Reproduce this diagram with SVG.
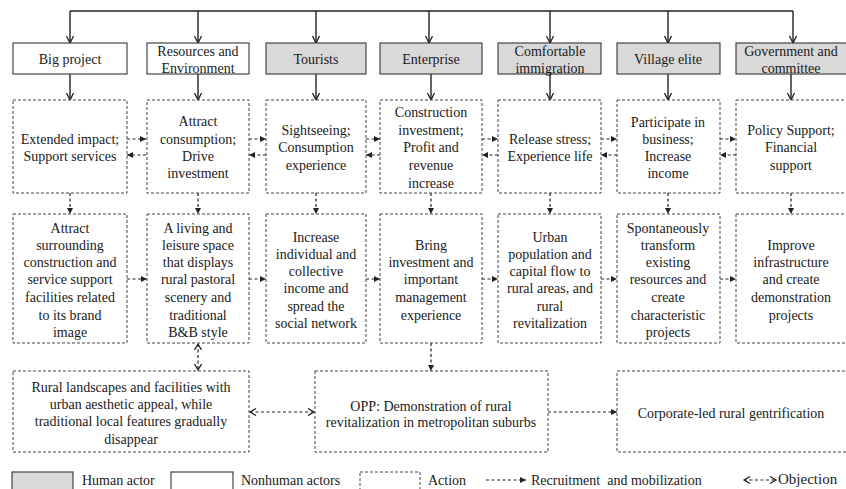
<svg xmlns="http://www.w3.org/2000/svg" width="846" height="489" viewBox="0 0 846 489" font-family="Liberation Serif, Times New Roman, Tinos, DejaVu Serif, serif">
<style>
text{font-family:"Liberation Serif","Times New Roman",Tinos,"DejaVu Serif",serif;font-size:14px;fill:#1a1a1a;text-anchor:middle}
.lg{text-anchor:start}
.actor{stroke:#333;stroke-width:1.1;fill:#fff}
.human{fill:#d9d9d9}
.act{stroke:#444;stroke-width:1;fill:#fff;stroke-dasharray:3 2}
.solid{stroke:#222;stroke-width:1.4;fill:none}
.dash{stroke:#222;stroke-width:1.2;fill:none;stroke-dasharray:3 2.5}
</style>
<defs>
<marker id="vs" markerUnits="userSpaceOnUse" markerWidth="10" markerHeight="10" refX="8" refY="4" orient="auto"><path d="M1,0.5 L8,4 L1,7.5" fill="none" stroke="#222" stroke-width="1.3"/></marker>
<marker id="tri" markerUnits="userSpaceOnUse" markerWidth="8" markerHeight="8" refX="6" refY="3" orient="auto"><path d="M0,0 L6,3 L0,6 Z" fill="#222"/></marker>
<marker id="ve" markerUnits="userSpaceOnUse" markerWidth="10" markerHeight="10" refX="7" refY="4" orient="auto-start-reverse"><path d="M1,0.5 L7,4 L1,7.5" fill="none" stroke="#222" stroke-width="1.3"/></marker>
</defs>

<g id="connectors">
<path class="solid" d="M70,11 H793"/>
<path class="solid" marker-end="url(#vs)" d="M70,11 V43"/>
<path class="solid" marker-end="url(#vs)" d="M198,11 V43"/>
<path class="solid" marker-end="url(#vs)" d="M316,11 V43"/>
<path class="solid" marker-end="url(#vs)" d="M429,11 V43"/>
<path class="solid" marker-end="url(#vs)" d="M550,11 V43"/>
<path class="solid" marker-end="url(#vs)" d="M668,11 V43"/>
<path class="solid" marker-end="url(#vs)" d="M793,11 V43"/>
<path class="solid" marker-end="url(#vs)" d="M70,74 V100"/>
<path class="solid" marker-end="url(#vs)" d="M198,74 V100"/>
<path class="solid" marker-end="url(#vs)" d="M316,74 V100"/>
<path class="solid" marker-end="url(#vs)" d="M431,74 V100"/>
<path class="solid" marker-end="url(#vs)" d="M550,74 V100"/>
<path class="solid" marker-end="url(#vs)" d="M668,74 V100"/>
<path class="solid" marker-end="url(#vs)" d="M791,74 V100"/>
<path class="dash" marker-end="url(#tri)" d="M127,139 H146"/>
<path class="dash" marker-end="url(#tri)" d="M146,155 H127"/>
<path class="dash" marker-end="url(#tri)" d="M249,139 H266"/>
<path class="dash" marker-end="url(#tri)" d="M266,155 H249"/>
<path class="dash" marker-end="url(#tri)" d="M366,139 H380"/>
<path class="dash" marker-end="url(#tri)" d="M380,155 H366"/>
<path class="dash" marker-end="url(#tri)" d="M482,139 H498"/>
<path class="dash" marker-end="url(#tri)" d="M498,155 H482"/>
<path class="dash" marker-end="url(#tri)" d="M601,139 H617"/>
<path class="dash" marker-end="url(#tri)" d="M617,155 H601"/>
<path class="dash" marker-end="url(#tri)" d="M720,139 H736"/>
<path class="dash" marker-end="url(#tri)" d="M736,155 H720"/>
<path class="dash" marker-end="url(#tri)" d="M70,193 V214"/>
<path class="dash" marker-end="url(#tri)" d="M198,193 V214"/>
<path class="dash" marker-end="url(#tri)" d="M316,193 V214"/>
<path class="dash" marker-end="url(#tri)" d="M431,193 V214"/>
<path class="dash" marker-end="url(#tri)" d="M550,193 V214"/>
<path class="dash" marker-end="url(#tri)" d="M668,193 V214"/>
<path class="dash" marker-end="url(#tri)" d="M791,193 V214"/>
<path class="dash" marker-end="url(#tri)" d="M127,279 H147"/>
<path class="dash" marker-end="url(#tri)" d="M249,279 H266"/>
<path class="dash" marker-end="url(#tri)" d="M366,279 H380"/>
<path class="dash" marker-end="url(#tri)" d="M482,279 H498"/>
<path class="dash" marker-end="url(#tri)" d="M601,279 H617"/>
<path class="dash" marker-end="url(#tri)" d="M720,279 H736"/>
<path class="dash" marker-start="url(#ve)" marker-end="url(#ve)" d="M198,344 V370"/>
<path class="dash" marker-end="url(#tri)" d="M431,343 V371"/>
<path class="dash" marker-start="url(#ve)" marker-end="url(#ve)" d="M250,412 H314"/>
<path class="dash" marker-end="url(#tri)" d="M548,412 H617"/>
</g>

<g id="n-big-project"><rect class="actor" x="13" y="43" width="114" height="31"/><text x="70" y="64">Big project</text></g>
<g id="n-resources"><rect class="actor" x="147" y="43" width="102" height="31"/><text x="198" y="56">Resources  and</text><text x="198" y="73">Environment</text></g>
<g id="n-tourists"><rect class="actor human" x="266" y="43" width="100" height="31"/><text x="316" y="64">Tourists</text></g>
<g id="n-enterprise"><rect class="actor human" x="380" y="43" width="102" height="31"/><text x="431" y="64">Enterprise</text></g>
<g id="n-immigration"><rect class="actor human" x="498" y="43" width="103" height="31"/><text x="550" y="56">Comfortable</text><text x="550" y="73">immigration</text></g>
<g id="n-village-elite"><rect class="actor human" x="617" y="43" width="103" height="31"/><text x="668" y="64">Village elite</text></g>
<g id="n-government"><rect class="actor human" x="736" y="43" width="115" height="31"/><text x="791" y="56">Government  and</text><text x="791" y="73">committee</text></g>

<g id="a1-big"><rect class="act" x="13" y="100" width="114" height="93"/><text x="70" y="144">Extended impact;</text><text x="70" y="161">Support services</text></g>
<g id="a1-res"><rect class="act" x="147" y="100" width="102" height="93"/><text x="198" y="126">Attract</text><text x="198" y="144">consumption;</text><text x="198" y="161">Drive</text><text x="198" y="178">investment</text></g>
<g id="a1-tour"><rect class="act" x="266" y="100" width="100" height="93"/><text x="316" y="135">Sightseeing;</text><text x="316" y="152">Consumption</text><text x="316" y="170">experience</text></g>
<g id="a1-ent"><rect class="act" x="380" y="100" width="102" height="93"/><text x="431" y="117">Construction</text><text x="431" y="135">investment;</text><text x="431" y="152">Profit  and</text><text x="431" y="170">revenue</text><text x="431" y="188">increase</text></g>
<g id="a1-imm"><rect class="act" x="498" y="100" width="103" height="93"/><text x="550" y="144">Release  stress;</text><text x="550" y="161">Experience  life</text></g>
<g id="a1-vil"><rect class="act" x="617" y="100" width="103" height="93"/><text x="668" y="127">Participate in</text><text x="668" y="144">business;</text><text x="668" y="161">Increase</text><text x="668" y="178">income</text></g>
<g id="a1-gov"><rect class="act" x="736" y="100" width="115" height="93"/><text x="791" y="135">Policy Support;</text><text x="791" y="152">Financial</text><text x="791" y="170">support</text></g>

<g id="a2-big"><rect class="act" x="13" y="214" width="114" height="129"/><text x="70" y="233">Attract</text><text x="70" y="250">surrounding</text><text x="70" y="267">construction  and</text><text x="70" y="284">service support</text><text x="70" y="302">facilities related</text><text x="70" y="320">to its brand</text><text x="70" y="337">image</text></g>
<g id="a2-res"><rect class="act" x="147" y="214" width="102" height="129"/><text x="198" y="233">A living and</text><text x="198" y="250">leisure space</text><text x="198" y="267">that displays</text><text x="198" y="284">rural pastoral</text><text x="198" y="302">scenery and</text><text x="198" y="320">traditional</text><text x="198" y="337">B&amp;B style</text></g>
<g id="a2-tour"><rect class="act" x="266" y="214" width="100" height="129"/><text x="316" y="242">Increase</text><text x="316" y="259">individual and</text><text x="316" y="276">collective</text><text x="316" y="293">income and</text><text x="316" y="311">spread the</text><text x="316" y="328">social network</text></g>
<g id="a2-ent"><rect class="act" x="380" y="214" width="102" height="129"/><text x="431" y="250">Bring</text><text x="431" y="267">investment  and</text><text x="431" y="284">important</text><text x="431" y="302">management</text><text x="431" y="320">experience</text></g>
<g id="a2-imm"><rect class="act" x="498" y="214" width="103" height="129"/><text x="550" y="242">Urban</text><text x="550" y="259">population and</text><text x="550" y="276">capital flow to</text><text x="550" y="293">rural areas, and</text><text x="550" y="311">rural</text><text x="550" y="328">revitalization</text></g>
<g id="a2-vil"><rect class="act" x="617" y="214" width="103" height="129"/><text x="668" y="233">Spontaneously</text><text x="668" y="250">transform</text><text x="668" y="267">existing</text><text x="668" y="284">resources  and</text><text x="668" y="302">create</text><text x="668" y="320">characteristic</text><text x="668" y="337">projects</text></g>
<g id="a2-gov"><rect class="act" x="736" y="214" width="115" height="129"/><text x="791" y="250">Improve</text><text x="791" y="267">infrastructure</text><text x="791" y="284">and create</text><text x="791" y="302">demonstration</text><text x="791" y="320">projects</text></g>

<g id="rural-landscapes"><rect class="act" x="13" y="371" width="236" height="81"/><text x="131" y="392">Rural landscapes and facilities with</text><text x="131" y="409">urban aesthetic appeal, while</text><text x="131" y="426">traditional  local features gradually</text><text x="131" y="444">disappear</text></g>
<g id="opp"><rect class="act" x="315" y="371" width="233" height="81"/><text x="431" y="411">OPP: Demonstration  of rural</text><text x="431" y="427">revitalization  in metropolitan  suburbs</text></g>
<g id="gentrification"><rect class="act" x="617" y="371" width="234" height="81"/><text x="731" y="418">Corporate-led  rural gentrification</text></g>

<g id="legend">
<rect class="actor human" x="12" y="472" width="61" height="22"/><text class="lg" x="82" y="485">Human actor</text>
<rect class="actor" x="171" y="472" width="62" height="22"/><text class="lg" x="241" y="485">Nonhuman actors</text>
<rect class="act" x="360" y="472" width="60" height="22"/><text class="lg" x="428" y="485">Action</text>
<path class="dash" marker-end="url(#tri)" d="M486,480 H526"/><text class="lg" x="531" y="485" xml:space="preserve">Recruitment  and mobilization</text>
<path class="dash" marker-start="url(#ve)" marker-end="url(#ve)" d="M744,480 H776"/><text class="lg" x="778" y="484" style="font-size:15px">Objection</text>
</g>
</svg>
